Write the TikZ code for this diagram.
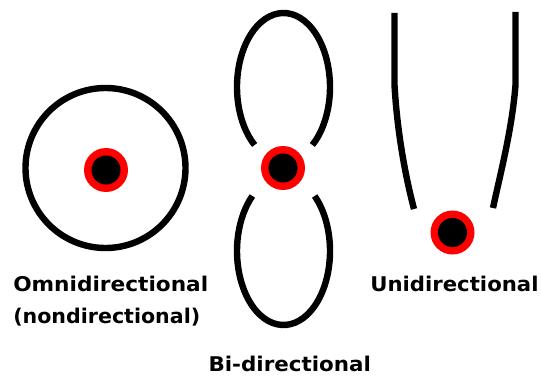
\documentclass[tikz,border=0pt]{standalone}
\usepackage{fontspec}
\setmainfont{DejaVu Sans}
\begin{document}
\begin{tikzpicture}[x=0.75pt,y=-0.75pt,
  pattern line/.style={draw=black,line width=4.8pt,line cap=butt},
  lbl/.style={anchor=base west,inner sep=0pt,font=\fontsize{15.2}{18}\selectfont\bfseries},
  ringdot/.style={circle,fill=red,minimum size=33pt,inner sep=0pt},
  coredot/.style={circle,fill=black,minimum size=21.8pt,inner sep=0pt}]
\useasboundingbox (0,0) rectangle (542,378);
% omnidirectional
\draw[pattern line] (105.5,168) circle[radius=80];
\node[ringdot] (omniring) at (106,170) {};
\node[coredot] (omnicore) at (106,170) {};
% bi-directional
\draw[pattern line] ([shift={(128.4:46.5 and 74)}]283.5,87) arc[start angle=128.4,end angle=411.6,x radius=46.5,y radius=74];
\draw[pattern line] ([shift={(-48:46.5 and 74)}]283.5,251) arc[start angle=-48,end angle=228,x radius=46.5,y radius=74];
\node[ringdot] (biring) at (283,168) {};
\node[coredot] (bicore) at (283,168) {};
% unidirectional
\draw[pattern line] (394.5,13) -- (394.5,85) .. controls (397,130) and (405,175) .. (414,209);
\draw[pattern line] (515.5,12) -- (515.5,85) .. controls (512,130) and (500,175) .. (493,208);
\node[ringdot] (uniring) at (452.5,232.5) {};
\node[coredot] (unicore) at (452.5,232.5) {};
% labels
\node[lbl] (omnilabel) at (13,291.7) {\resizebox{146.2pt}{\height}{Omnidirectional}};
\node[lbl] (nondirlabel) at (13,323) {\resizebox{140.2pt}{\height}{(nondirectional)}};
\node[lbl] (bilabel) at (208.3,371.7) {\resizebox{121.8pt}{\height}{Bi-directional}};
\node[lbl] (unilabel) at (370,291.7) {\resizebox{126.2pt}{\height}{Unidirectional}};
\end{tikzpicture}
\end{document}
